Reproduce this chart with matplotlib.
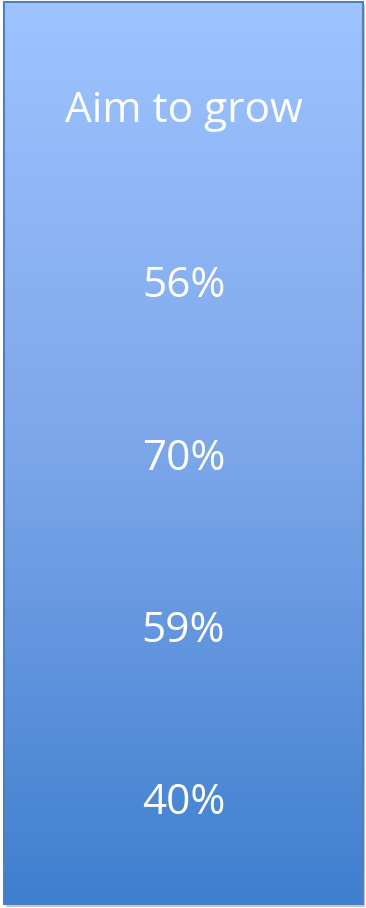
import numpy as np
import matplotlib.pyplot as plt
from matplotlib.colors import LinearSegmentedColormap
from matplotlib.patches import Rectangle

# Data
header = "Aim to grow"
growth = [56, 70, 59, 40]
labels = [f"{v}%" for v in growth]

W, H = 366, 908
fig = plt.figure(figsize=(W / 100, H / 100), dpi=100)
ax = fig.add_axes([0, 0, 1, 1])
ax.set_xlim(0, W)
ax.set_ylim(H, 0)
ax.axis("off")

# box bounds
x0, x1, y0, y1 = 4, 363, 2, 904

# shadow
ax.add_patch(Rectangle((x0 + 2, y0 + 3), x1 - x0, y1 - y0, facecolor="#c8c8c8", edgecolor="none", zorder=0))

# gradient fill
cmap = LinearSegmentedColormap.from_list("blu", ["#9ec4ff", "#7ca6ea", "#3f7fcf"])
grad = np.linspace(0, 1, 256).reshape(-1, 1)
ax.imshow(grad, cmap=cmap, extent=[x0, x1, y1, y0], aspect="auto", zorder=1)
ax.add_patch(Rectangle((x0, y0), x1 - x0, y1 - y0, facecolor="none", edgecolor="#4f7fbf", lw=1.5, zorder=2))

cx = (x0 + x1) / 2
font = "Open Sans"
ax.text(cx, 111, header, color="white", fontsize=30.5, family=font, ha="center", va="center", zorder=3)
first, step = 286, 172.5
for i, lab in enumerate(labels):
    ax.text(cx, first + i * step, lab, color="white", fontsize=30.5, family=font, ha="center", va="center", zorder=3)

fig.savefig("out.png", dpi=100)
